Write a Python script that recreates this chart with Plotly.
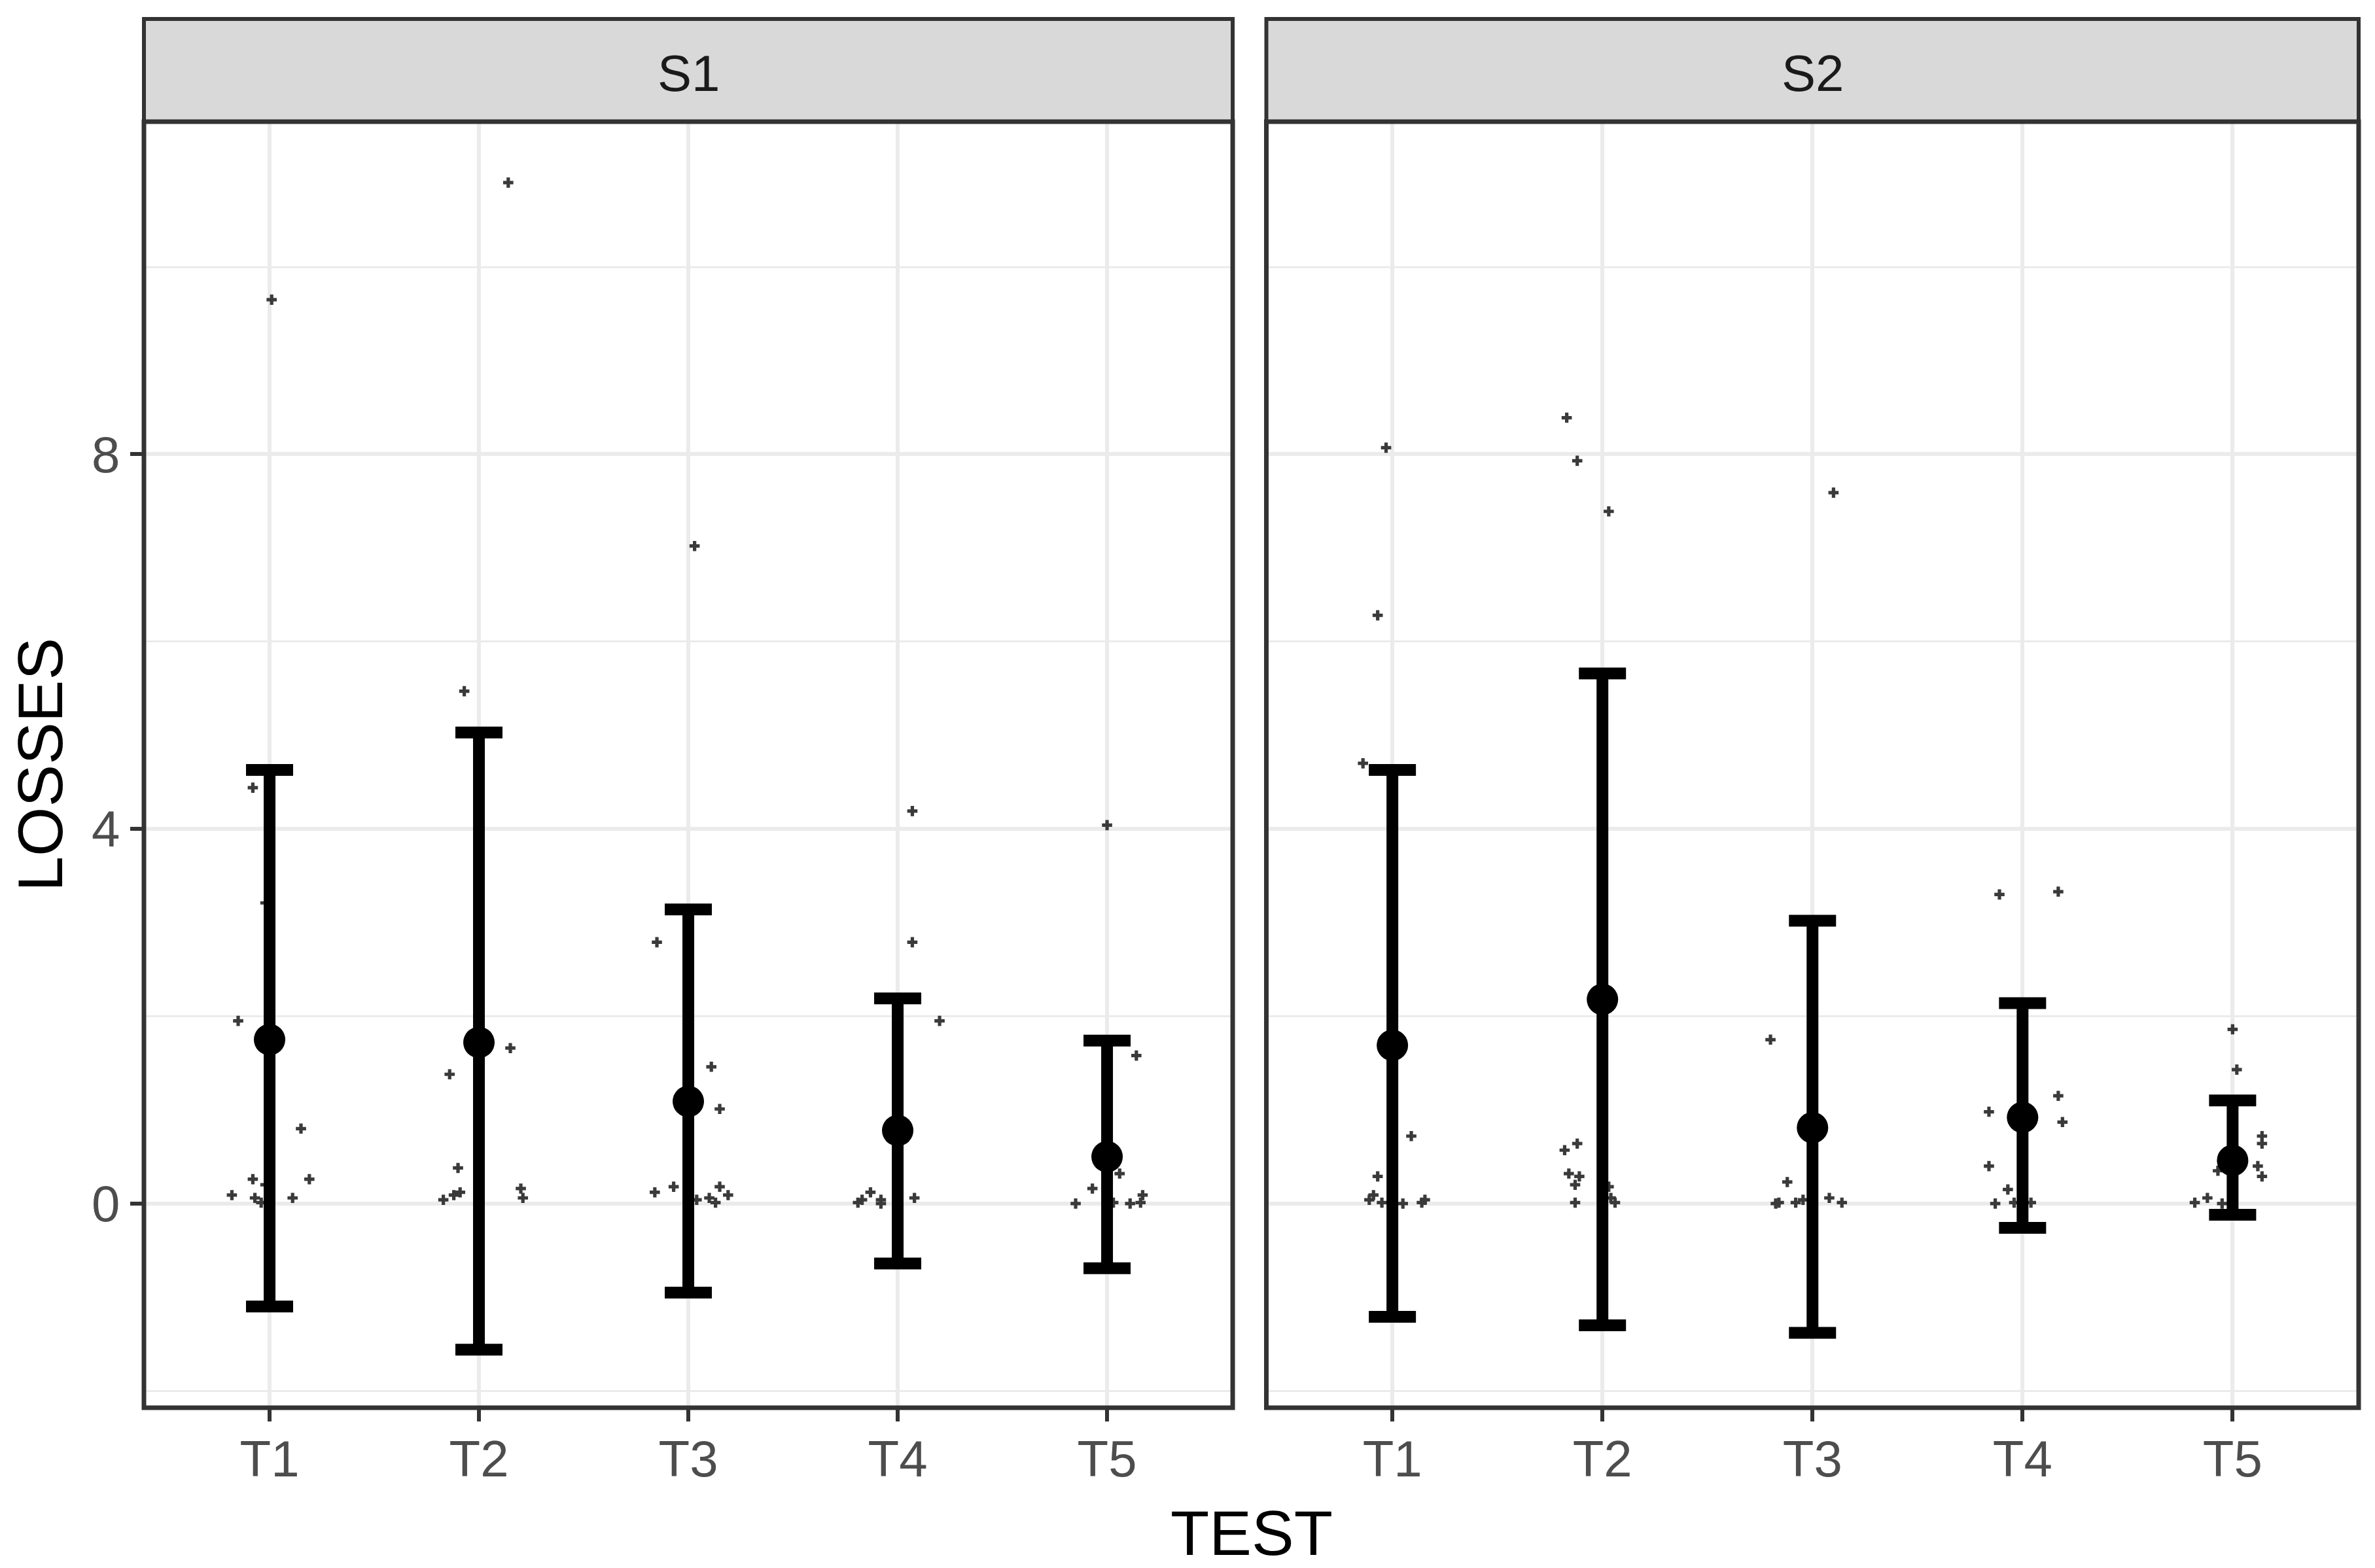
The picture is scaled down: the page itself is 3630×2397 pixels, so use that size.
import plotly.graph_objects as go

# facet panels and test categories
panels = ["S1", "S2"]
tests = ["T1", "T2", "T3", "T4", "T5"]

# summary (mean with error bar limits) per panel
s1_mean = [1.75, 1.72, 1.09, 0.78, 0.50]
s1_upper = [4.63, 5.03, 3.14, 2.19, 1.74]
s1_lower = [-1.10, -1.56, -0.95, -0.64, -0.69]

s2_mean = [1.69, 2.18, 0.81, 0.92, 0.46]
s2_upper = [4.63, 5.66, 3.02, 2.14, 1.10]
s2_lower = [-1.21, -1.30, -1.38, -0.26, -0.12]

# raw jittered observations (test, loss, horizontal jitter)
s1_pt_test = (["T1"] * 12 + ["T2"] * 10 + ["T3"] * 11 + ["T4"] * 9 + ["T5"] * 9)
s1_pt_loss = [9.65, 4.44, 3.21, 1.95, 0.80, 0.26, 0.26, 0.20, 0.09, 0.06, 0.01, 0.06,
              10.9, 5.47, 1.66, 1.38, 0.38, 0.12, 0.09, 0.04, 0.16, 0.06,
              7.02, 2.79, 1.46, 1.01, 0.12, 0.18, 0.04, 0.06, 0.01, 0.18, 0.09,
              4.19, 2.79, 1.95, 0.01, 0.04, 0.12, 0.04, 0.00, 0.06,
              4.04, 1.58, 0.32, 0.16, 0.00, 0.01, 0.00, 0.01, 0.09]
s1_pt_jitter = [0.01, -0.08, -0.02, -0.15, 0.15, -0.08, 0.19, -0.02, -0.18, -0.07, -0.04, 0.11,
                0.14, -0.07, 0.15, -0.14, -0.10, -0.09, -0.12, -0.17, 0.20, 0.21,
                0.03, -0.15, 0.11, 0.15, -0.16, -0.07, 0.04, 0.10, 0.13, 0.15, 0.19,
                0.07, 0.07, 0.20, -0.19, -0.17, -0.13, -0.08, -0.08, 0.08,
                0.00, 0.14, 0.06, -0.07, -0.15, 0.03, 0.11, 0.16, 0.17]

s2_pt_test = (["T1"] * 11 + ["T2"] * 12 + ["T3"] * 9 + ["T4"] * 10 + ["T5"] * 10)
s2_pt_loss = [8.07, 6.28, 4.70, 0.72, 0.29, 0.09, 0.04, 0.01, 0.00, 0.01, 0.04,
              8.39, 7.93, 7.39, 0.57, 0.64, 0.32, 0.29, 0.20, 0.01, 0.18, 0.06, 0.01,
              7.59, 1.75, 0.23, 0.00, 0.01, 0.01, 0.04, 0.06, 0.01,
              3.30, 3.33, 1.15, 0.98, 0.87, 0.40, 0.15, 0.00, 0.01, 0.01,
              1.86, 1.43, 0.72, 0.64, 0.40, 0.29, 0.35, 0.01, 0.06, 0.00]
s2_pt_jitter = [-0.03, -0.07, -0.14, 0.09, -0.07, -0.09, -0.11, -0.05, 0.05, 0.14, 0.155,
                -0.17, -0.12, 0.03, -0.18, -0.12, -0.16, -0.11, -0.13, -0.13, 0.03, 0.04, 0.06,
                0.10, -0.20, -0.12, -0.175, -0.16, -0.08, -0.045, 0.08, 0.14,
                -0.11, 0.17, 0.17, -0.16, 0.19, -0.16, -0.07, -0.13, -0.04, 0.04,
                0.00, 0.02, 0.14, 0.14, 0.12, 0.14, -0.07, -0.18, -0.12, -0.05]

FONT = "Liberation Sans, Arial, sans-serif"
pos = {t: i + 1 for i, t in enumerate(tests)}

panel_data = [
    (s1_pt_test, s1_pt_loss, s1_pt_jitter, s1_mean, s1_upper, s1_lower),
    (s2_pt_test, s2_pt_loss, s2_pt_jitter, s2_mean, s2_upper, s2_lower),
]

fig = go.Figure()
for k, (pt, pl, pj, mean, up, lo) in enumerate(panel_data):
    xa = "x" if k == 0 else "x2"
    ya = "y" if k == 0 else "y2"
    fig.add_trace(go.Scatter(
        x=[pos[t] + j for t, j in zip(pt, pj)], y=pl, mode="markers",
        marker=dict(symbol="cross", size=13, color="#3a3a3a", line=dict(width=0)),
        xaxis=xa, yaxis=ya, showlegend=False, hoverinfo="skip",
    ))
    fig.add_trace(go.Scatter(
        x=[pos[t] for t in tests], y=mean, mode="markers",
        marker=dict(symbol="circle", size=48, color="black"),
        error_y=dict(type="data", symmetric=False,
                     array=[u - m for u, m in zip(up, mean)],
                     arrayminus=[m - l for m, l in zip(mean, lo)],
                     color="black", thickness=18, width=36),
        xaxis=xa, yaxis=ya, showlegend=False,
    ))

xdom = [[0, 0.4916], [0.5068, 1.0]]
ytop = 0.926

common_x = dict(
    range=[0.4, 5.6], tickmode="array", tickvals=[1, 2, 3, 4, 5], ticktext=tests,
    showgrid=True, gridcolor="#ebebeb", gridwidth=6, zeroline=False,
    ticks="outside", ticklen=20, tickwidth=6, tickcolor="#333333",
    ticklabelstandoff=-10,
    tickfont=dict(family=FONT, size=78, color="#4d4d4d"), showline=False,
)
common_y = dict(
    range=[-2.18, 11.55], tickmode="linear", tick0=0, dtick=4,
    showgrid=True, gridcolor="#ebebeb", gridwidth=6, zeroline=False,
    minor=dict(dtick=2, tick0=0, showgrid=True, gridcolor="#ebebeb", gridwidth=3),
    ticklen=20, tickwidth=6, tickcolor="#333333",
    tickfont=dict(family=FONT, size=78, color="#4d4d4d"), showline=False,
    domain=[0, ytop],
)

fig.update_layout(
    width=3630, height=2397,
    margin=dict(l=212, r=33, t=21, b=253),
    plot_bgcolor="white", paper_bgcolor="white",
    xaxis=dict(domain=xdom[0], anchor="y", **common_x),
    xaxis2=dict(domain=xdom[1], anchor="y2", **common_x),
    yaxis=dict(anchor="x", ticks="outside", **common_y),
    yaxis2=dict(anchor="x2", matches="y", showticklabels=False, ticks="", **common_y),
)

shapes = []
annotations = []
for k, name in enumerate(panels):
    xr = "x domain" if k == 0 else "x2 domain"
    yr = "y domain" if k == 0 else "y2 domain"
    # strip
    shapes.append(dict(type="rect", xref=xr, yref="paper", x0=0, x1=1, y0=ytop, y1=1.0,
                       fillcolor="#d9d9d9", line=dict(color="#333333", width=6), layer="above"))
    # panel border
    shapes.append(dict(type="rect", xref=xr, yref=yr, x0=0, x1=1, y0=0, y1=1,
                       fillcolor="rgba(0,0,0,0)", line=dict(color="#333333", width=7), layer="above"))
    annotations.append(dict(text=name, xref=xr, yref="paper", x=0.5, y=0.961,
                            showarrow=False, xanchor="center", yanchor="middle",
                            font=dict(family=FONT, size=78, color="#1a1a1a")))

annotations.append(dict(text="TEST", xref="paper", yref="paper", x=0.5, y=-0.09,
                        showarrow=False, xanchor="center", yanchor="middle",
                        font=dict(family=FONT, size=97, color="black")))
annotations.append(dict(text="LOSSES", xref="paper", yref="paper", x=-0.047, y=ytop / 2,
                        showarrow=False, xanchor="center", yanchor="middle", textangle=-90,
                        font=dict(family=FONT, size=97, color="black")))

fig.update_layout(shapes=shapes, annotations=annotations)
fig.write_html("out.html")
